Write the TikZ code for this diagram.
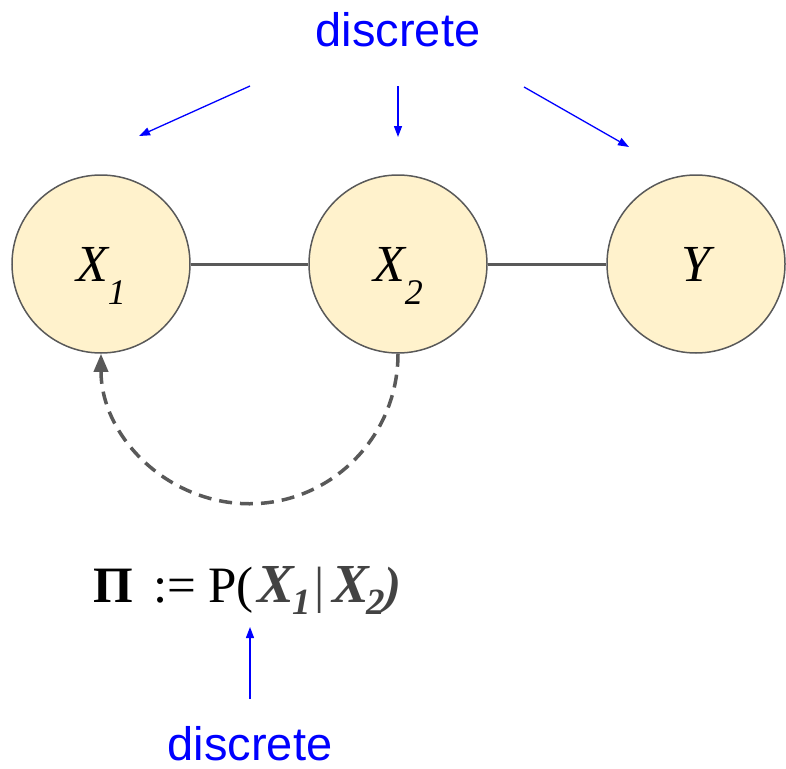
\documentclass[tikz,border=0pt]{standalone}
\usepackage{fontspec}
\setmainfont{Liberation Serif}
\setsansfont{Liberation Sans}
\usetikzlibrary{arrows.meta}
\definecolor{nodefill}{HTML}{FFF2CC}
\definecolor{edgegray}{HTML}{595959}
\definecolor{formgray}{HTML}{434343}
\newcommand{\putat}[2]{\makebox[0pt][l]{\hspace*{#1}#2}}
\newcommand{\fsz}[1]{\fontsize{#1}{#1}\selectfont}
\begin{document}
\begin{tikzpicture}[x=1pt,y=1pt,
  var/.style={circle, draw=edgegray, line width=1.5pt, fill=nodefill, minimum size=178pt, inner sep=0pt, font=\fsz{52}\itshape},
  link/.style={draw=edgegray, line width=3pt},
  hint/.style={draw=blue, line width=1.3pt, -{Triangle[length=11pt,width=8pt]}},
  lbl/.style={text=blue, font=\sffamily\fsz{47}, inner sep=0pt}
]
\useasboundingbox (0,0) rectangle (786,-768);
\node[var] (x1) at (101,-264) {X\kern0pt\smash{\raisebox{-23pt}{\fsz{36}1}}};
\node[var] (x2) at (398,-264) {X\kern0pt\smash{\raisebox{-23pt}{\fsz{36}2}}};
\node[var] (y) at (696,-264) {Y};
\draw[link] (x1) -- (x2);
\draw[link] (x2) -- (y);
\draw[link, line width=3.5pt, dash pattern=on 13pt off 8pt, -{Triangle[length=18pt,width=14pt]}]
  (x2.south) arc[start angle=0, end angle=-180, x radius=148.5, y radius=150];
\node[lbl] (dtop) at (398,-30) {discrete};
\node[lbl] (dbot) at (250,-744) {discrete};
\coordinate (a1s) at (250,-86);
\coordinate (a1e) at (139,-136);
\coordinate (a2s) at (398,-86);
\coordinate (a2e) at (398,-137);
\coordinate (a3s) at (524,-87);
\coordinate (a3e) at (629,-147);
\coordinate (a4s) at (250,-699);
\coordinate (a4e) at (250,-627);
\draw[hint] (a1s) -- (a1e);
\draw[hint] (a2s) -- (a2e);
\draw[hint] (a3s) -- (a3e);
\draw[hint] (a4s) -- (a4e);
\node[anchor=base west, inner sep=0pt] (pi) at (93,-602)
  {\fsz{51}%
   \putat{0pt}{\textbf{Π}}%
   \putat{60pt}{:=}%
   \putat{115pt}{P(}%
   {\color{formgray}\bfseries\itshape
    \putat{164pt}{\fsz{55}X}%
    \putat{199pt}{\raisebox{-12pt}{\fsz{37}1}}%
    \putat{221pt}{\upshape\mdseries |}%
    \putat{239pt}{\fsz{55}X}%
    \putat{273pt}{\raisebox{-12pt}{\fsz{37}2}}%
    \putat{291pt}{)}}%
   \hspace*{312pt}};
\end{tikzpicture}
\end{document}
